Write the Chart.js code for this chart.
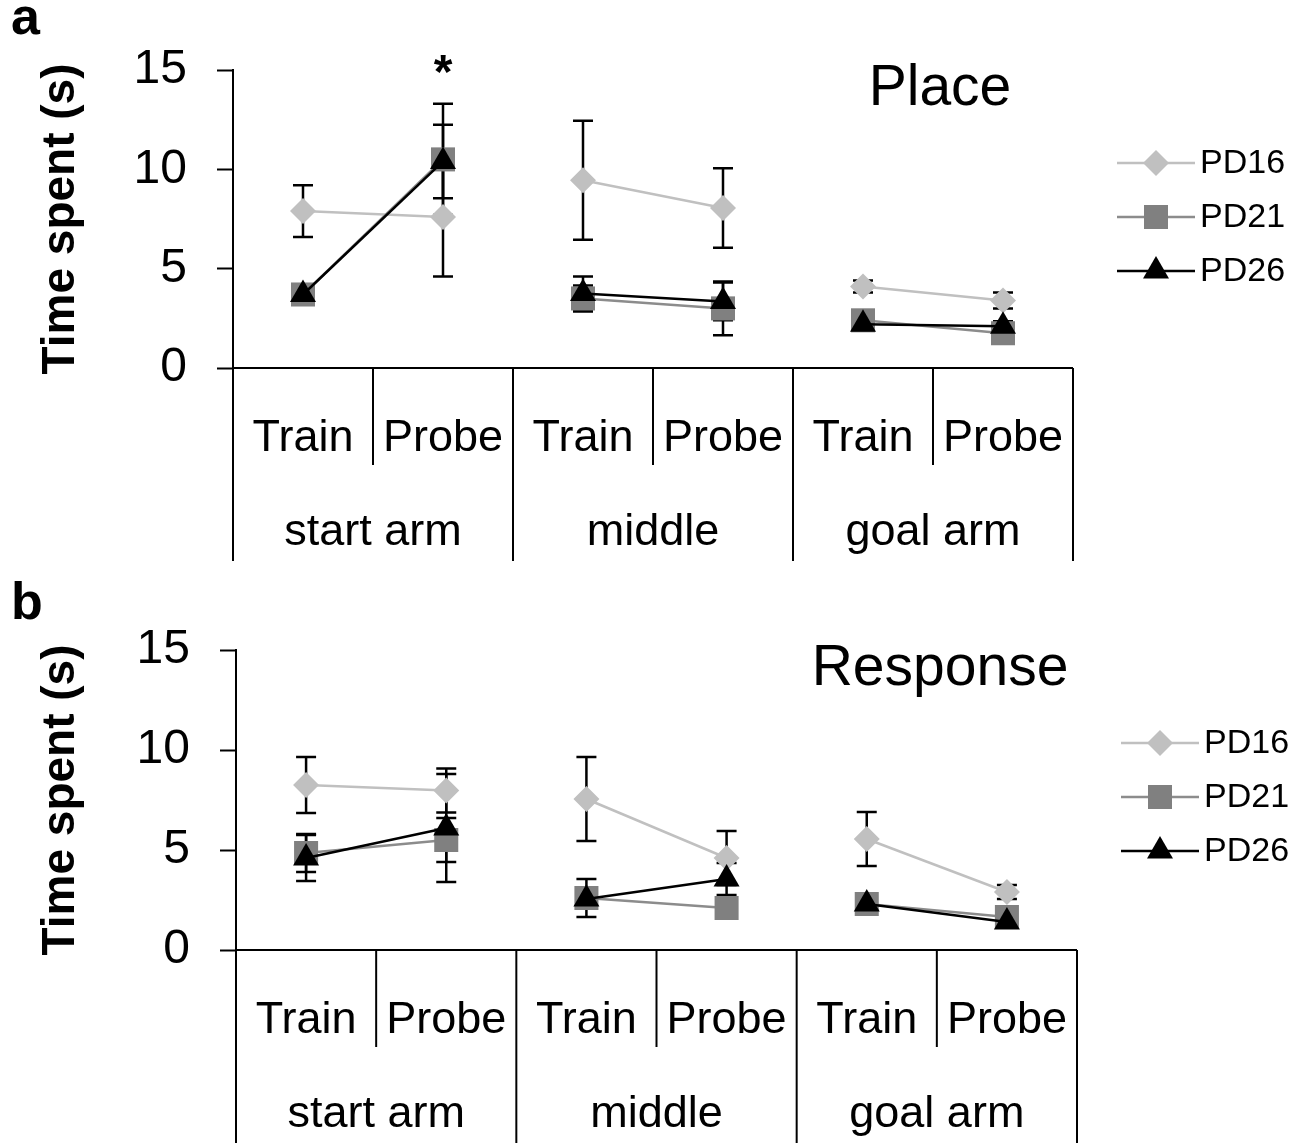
<!DOCTYPE html>
<html>
<head>
<meta charset="utf-8">
<script src="https://cdn.jsdelivr.net/npm/chart.js@4.4.3/dist/chart.umd.min.js"></script>
<style>
  html, body { margin: 0; padding: 0; background: #fff; }
  #wrap { position: relative; width: 1306px; height: 1143px; overflow: hidden; }
  canvas { position: absolute; left: 0; }
</style>
</head>
<body>
<div id="wrap">
  <canvas id="place" width="1306" height="580" style="top:0"></canvas>
  <canvas id="response" width="1306" height="563" style="top:580px"></canvas>
</div>
<script>
// x categories (two levels) and series
const categories = ['Train', 'Probe', 'Train', 'Probe', 'Train', 'Probe'];
const groups = ['start arm', 'middle', 'goal arm'];
const seriesNames = ['PD16', 'PD21', 'PD26'];
const yTicks = [0, 5, 10, 15];

// panel a: Place
const placePD16 = [7.9, 7.6, 9.45, 8.05, 4.1, 3.4];
const placePD16Err = [1.3, 3.0, 3.0, 2.0, 0.3, 0.4];
const placePD21 = [3.7, 10.5, 3.5, 3.0, 2.4, 1.75];
const placePD21Err = [0.3, 2.8, 0.65, 1.35, 0.3, 0.3];
const placePD26 = [3.7, 10.4, 3.75, 3.35, 2.2, 2.1];
const placePD26Err = [0.3, 1.85, 0.85, 0.95, 0.2, 0.25];

// panel b: Response
const respPD16 = [8.25, 7.97, 7.55, 4.6, 5.55, 2.9];
const respPD16Err = [1.4, 1.1, 2.1, 1.35, 1.35, 0.35];
const respPD21 = [4.85, 5.5, 2.6, 2.1, 2.3, 1.65];
const respPD21Err = [0.95, 1.1, 0.95, 0.3, 0.2, 0.3];
const respPD26 = [4.6, 6.1, 2.55, 3.55, 2.3, 1.4];
const respPD26Err = [1.15, 2.7, 0.3, 0.8, 0.2, 0.25];

const FONT = "'Liberation Sans', Arial, sans-serif";
Chart.defaults.font.family = FONT;
Chart.defaults.color = '#000';

const styles = [
  { line: '#c0c0c0', fill: '#c0c0c0', shape: 'rectRot', r: 13 },
  { line: '#8c8c8c', fill: '#808080', shape: 'rect', r: 17 },
  { line: '#000000', fill: '#000000', shape: 'triangle', r: 15 }
];

// error bars, under the markers
const errorBars = {
  id: 'errorBars',
  beforeDatasetsDraw(chart) {
    const { ctx, scales: { y } } = chart;
    ctx.save();
    ctx.strokeStyle = '#000';
    ctx.lineWidth = 2.5;
    chart.data.datasets.forEach((ds, i) => {
      const meta = chart.getDatasetMeta(i);
      ds.errors.forEach((e, j) => {
        const x = meta.data[j].x;
        const t = y.getPixelForValue(ds.data[j] + e);
        const b = y.getPixelForValue(ds.data[j] - e);
        ctx.beginPath();
        ctx.moveTo(x, t); ctx.lineTo(x, b);
        ctx.moveTo(x - 10, t); ctx.lineTo(x + 10, t);
        ctx.moveTo(x - 10, b); ctx.lineTo(x + 10, b);
        ctx.stroke();
      });
    });
    ctx.restore();
  }
};

// two-level category axis, legend, title, panel letter
const decor = {
  id: 'decor',
  afterDraw(chart, args, opts) {
    const { ctx, chartArea: ca, scales: { x, y } } = chart;
    ctx.save();
    ctx.strokeStyle = '#000';
    ctx.fillStyle = '#000';
    ctx.lineWidth = 2;

    // axis line
    ctx.beginPath();
    ctx.moveTo(ca.left, ca.bottom); ctx.lineTo(ca.right, ca.bottom);
    ctx.stroke();

    // dividers
    const n = categories.length;
    const edge = i => i === 0 ? ca.left : i === n ? ca.right
      : (x.getPixelForValue(i - 1) + x.getPixelForValue(i)) / 2;
    for (let i = 0; i <= n; i++) {
      const long = i % 2 === 0;
      ctx.beginPath();
      ctx.moveTo(edge(i), ca.bottom);
      ctx.lineTo(edge(i), ca.bottom + (long ? 193 : 97));
      ctx.stroke();
    }

    ctx.textAlign = 'center';
    ctx.textBaseline = 'middle';
    ctx.font = '45px ' + FONT;
    categories.forEach((c, i) => ctx.fillText(c, x.getPixelForValue(i), ca.bottom + 71));
    groups.forEach((g, k) => ctx.fillText(g, (edge(2 * k) + edge(2 * k + 2)) / 2, ca.bottom + 165));

    // title
    ctx.font = '57px ' + FONT;
    ctx.fillText(opts.title, ca.right - opts.titleDx, ca.top + 19);

    // panel letter
    ctx.textAlign = 'left';
    ctx.font = 'bold 52px ' + FONT;
    ctx.fillText(opts.letter, 11, opts.letterY);

    // significance mark
    if (opts.star != null) {
      ctx.textAlign = 'center';
      ctx.font = 'bold 48px ' + FONT;
      ctx.fillText('*', x.getPixelForValue(opts.star), ca.top + 5);
    }

    // legend
    ctx.font = '34px ' + FONT;
    chart.data.datasets.forEach((ds, i) => {
      const ly = ca.top + 93 + i * 54;
      const lx0 = ca.right + 44, lx1 = ca.right + 122;
      ctx.strokeStyle = ds.borderColor;
      ctx.lineWidth = 2.5;
      ctx.beginPath(); ctx.moveTo(lx0, ly); ctx.lineTo(lx1, ly); ctx.stroke();
      ctx.fillStyle = ds.pointBackgroundColor;
      Chart.helpers.drawPoint(ctx, { pointStyle: ds.pointStyle, radius: ds.pointRadius, rotation: 0, borderWidth: 0 }, (lx0 + lx1) / 2, ly);
      ctx.fillStyle = '#000';
      ctx.textAlign = 'left';
      ctx.fillText(ds.label, lx1 + 5, ly + 1);
    });
    ctx.restore();
  }
};

function makePanel(id, series, errs, opts) {
  const datasets = series.map((vals, i) => ({
    label: seriesNames[i],
    data: vals,
    errors: errs[i],
    order: 2 - i,
    borderColor: styles[i].line,
    borderWidth: 2.5,
    pointStyle: styles[i].shape,
    pointRadius: styles[i].r,
    pointHoverRadius: styles[i].r,
    pointBackgroundColor: styles[i].fill,
    pointBorderWidth: 0,
    pointBorderColor: styles[i].fill,
    tension: 0,
    segment: {
      borderColor: c => c.p0DataIndex % 2 === 1 ? 'rgba(0,0,0,0)' : styles[i].line
    }
  }));

  return new Chart(document.getElementById(id), {
    type: 'line',
    data: { labels: categories, datasets },
    options: {
      responsive: false,
      animation: false,
      events: [],
      layout: { padding: { left: 0, top: opts.top, right: opts.right, bottom: opts.bottom } },
      plugins: {
        legend: { display: false },
        tooltip: { enabled: false },
        decor: opts
      },
      scales: {
        x: { type: 'category', offset: true, display: false },
        y: {
          min: 0, max: 15,
          afterBuildTicks: s => { s.ticks = yTicks.map(v => ({ value: v })); },
          afterFit: s => { s.width = opts.left; },
          border: { display: true, color: '#000', width: 2 },
          grid: { drawOnChartArea: false, drawTicks: true, tickLength: 16, tickColor: '#000', tickWidth: 2 },
          ticks: { font: { size: 48 }, color: '#000', padding: 30 },
          title: {
            display: true, text: 'Time spent (s)', color: '#000',
            font: { size: 46, weight: 'bold' }, padding: { top: 34, bottom: 0 }
          }
        }
      }
    },
    plugins: [errorBars, decor]
  });
}

makePanel('place',
  [placePD16, placePD21, placePD26],
  [placePD16Err, placePD21Err, placePD26Err],
  { left: 233, right: 233, top: 70, bottom: 212, title: 'Place', titleDx: 133, letter: 'a', letterY: 20, star: 1 });

makePanel('response',
  [respPD16, respPD21, respPD26],
  [respPD16Err, respPD21Err, respPD26Err],
  { left: 236, right: 229, top: 70, bottom: 193, title: 'Response', titleDx: 137, letter: 'b', letterY: 25, star: null });
</script>
</body>
</html>
